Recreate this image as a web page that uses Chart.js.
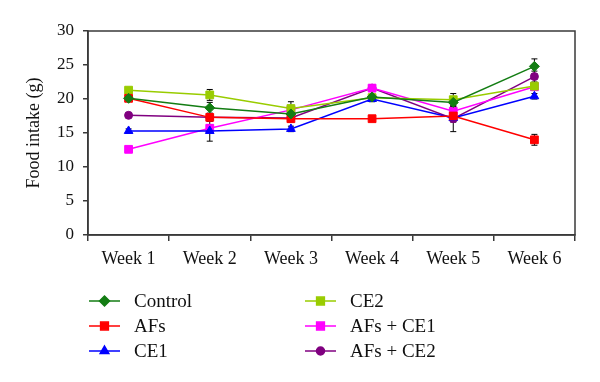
<!DOCTYPE html>
<html lang="en">
<head>
<meta charset="UTF-8">
<title>Food intake</title>
<style>
  body { margin: 0; background: #fff; }
  #wrap { width: 600px; height: 382px; }
</style>
</head>
<body>
<div id="wrap"><canvas id="myChart"></canvas></div>
<script src="https://cdn.jsdelivr.net/npm/chart.js"></script>
<script>
// data
const weeks = ['Week 1', 'Week 2', 'Week 3', 'Week 4', 'Week 5', 'Week 6']
const yTicks = [0, 5, 10, 15, 20, 25, 30]

const control  = [20.1, 18.7, 17.8, 20.3, 19.5, 24.8]
const afs      = [20.1, 17.3, 17.1, 17.1, 17.5, 14.0]
const ce1      = [15.3, 15.3, 15.6, 20.0, 17.2, 20.4]
const ce2      = [21.3, 20.6, 18.6, 20.2, 19.9, 21.9]
const afsCe1   = [12.6, 15.7, 18.4, 21.6, 18.2, 21.8]
const afsCe2   = [17.6, 17.3, 17.2, 21.6, 17.1, 23.3]

// +/- error (only a few are visible past the markers)
const controlErr = [0.4, 0.8, 0.5, 0.4, 0.6, 1.1]
const afsErr     = [0.3, 0.5, 0.4, 0.3, 0.5, 0.8]
const ce1Err     = [0.3, 1.5, 0.4, 0.4, 0.6, 0.4]
const ce2Err     = [0.3, 0.8, 1.0, 0.4, 0.9, 0.4]
const afsCe1Err  = [0.3, 0.5, 0.5, 0.4, 0.6, 0.5]
const afsCe2Err  = [0.3, 0.6, 0.6, 0.4, 1.9, 0.8]

const serif = '"Liberation Serif", "DejaVu Serif", serif'

function series(label, data, err, color, style, r) {
  return {
    label: label, data: data, err: err,
    borderColor: color, backgroundColor: color,
    borderWidth: 1.5, pointStyle: style, pointRadius: r,
    pointBorderWidth: 1, pointHoverRadius: r, tension: 0
  }
}

const datasets = [
  series('Control', control, controlErr, '#137d13', 'rectRot', 5),
  series('AFs', afs, afsErr, '#ff0000', 'rect', 5.5),
  series('CE1', ce1, ce1Err, '#0000ff', 'triangle', 5),
  series('CE2', ce2, ce2Err, '#99cc00', 'rect', 5.5),
  series('AFs + CE1', afsCe1, afsCe1Err, '#ff00ff', 'rect', 5.5),
  series('AFs + CE2', afsCe2, afsCe2Err, '#800080', 'circle', 4)
]

const errorBars = {
  id: 'errorBars',
  beforeDatasetsDraw(chart) {
    const ctx = chart.ctx
    const y = chart.scales.y
    ctx.save()
    ctx.strokeStyle = '#000'
    ctx.lineWidth = 1
    chart.data.datasets.forEach((ds, i) => {
      const meta = chart.getDatasetMeta(i)
      meta.data.forEach((pt, j) => {
        const v = ds.data[j], e = ds.err[j]
        const top = y.getPixelForValue(v + e), bot = y.getPixelForValue(v - e)
        ctx.beginPath()
        ctx.moveTo(pt.x, top); ctx.lineTo(pt.x, bot)
        ctx.moveTo(pt.x - 3, top); ctx.lineTo(pt.x + 3, top)
        ctx.moveTo(pt.x - 3, bot); ctx.lineTo(pt.x + 3, bot)
        ctx.stroke()
      })
    })
    ctx.restore()
  }
}

const frameAndLegend = {
  id: 'frameAndLegend',
  afterDraw(chart) {
    const ctx = chart.ctx
    const a = chart.chartArea
    ctx.save()
    ctx.strokeStyle = '#3a3a3a'
    ctx.lineWidth = 1.5
    ctx.strokeRect(a.left, a.top, a.right - a.left, a.bottom - a.top)

    // two-column legend
    ctx.font = '19px ' + serif
    ctx.textBaseline = 'middle'
    ctx.fillStyle = '#111'
    chart.data.datasets.forEach((ds, i) => {
      const col = i < 3 ? 0 : 1
      const row = i % 3
      const x0 = col === 0 ? 89 : 305
      const y0 = 301 + row * 25
      ctx.strokeStyle = ds.borderColor
      ctx.lineWidth = 1.5
      ctx.beginPath()
      ctx.moveTo(x0, y0); ctx.lineTo(x0 + 31, y0)
      ctx.stroke()
      ctx.fillStyle = ds.backgroundColor
      Chart.helpers.drawPoint(ctx, {
        pointStyle: ds.pointStyle, radius: ds.pointRadius, rotation: 0, borderWidth: 1
      }, x0 + 15.5, y0)
      ctx.fillStyle = '#111'
      ctx.fillText(ds.label, x0 + 45, y0 + 1)
    })
    ctx.restore()
  }
}

new Chart(document.getElementById('myChart'), {
  type: 'line',
  data: { labels: weeks, datasets: datasets },
  options: {
    responsive: true,
    maintainAspectRatio: false,
    animation: false,
    layout: { padding: { top: 31, right: 25, bottom: 107, left: 0 } },
    plugins: { legend: { display: false }, tooltip: { enabled: false } },
    scales: {
      x: {
        offset: true,
        grid: { offset: true, drawOnChartArea: false, drawTicks: true, tickLength: 6, color: '#3a3a3a', lineWidth: 1.5 },
        border: { color: '#3a3a3a', width: 1.5 },
        ticks: { color: '#111', font: { family: serif, size: 18 }, padding: 7, maxRotation: 0 },
        afterFit(s) { s.height = 40 }
      },
      y: {
        min: 0, max: 30,
        afterBuildTicks(s) { s.ticks = yTicks.map(v => ({ value: v })) },
        grid: { drawOnChartArea: false, drawTicks: true, tickLength: 5, color: '#3a3a3a', lineWidth: 1.5 },
        border: { color: '#3a3a3a', width: 1.5 },
        ticks: { color: '#111', font: { family: serif, size: 17 }, padding: 9 },
        title: { display: true, text: 'Food intake (g)', color: '#111', font: { family: serif, size: 18 }, padding: { top: 23, bottom: 0 } },
        afterFit(s) { s.width = 88 }
      }
    }
  },
  plugins: [errorBars, frameAndLegend]
})
</script>
</body>
</html>
